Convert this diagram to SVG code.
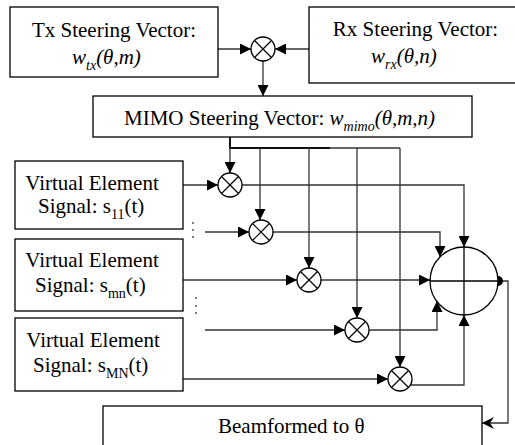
<svg xmlns="http://www.w3.org/2000/svg" width="515" height="445" viewBox="0 0 515 445">
<style>
  .box { fill: #fff; stroke: #000; stroke-width: 1.3; }
  .t { font-family: "Liberation Serif", "Times New Roman", serif; font-size: 21px; fill: #000; }
  .it { font-style: italic; }
  .sub { font-size: 14px; }
  .ln { fill: none; stroke: #333; stroke-width: 1.3; }
  .bus { fill: none; stroke: #111; stroke-width: 2; }
  .op { fill: #fff; stroke: #000; stroke-width: 1.3; }
  .dot { fill: #555; }
</style>
<defs>
  <marker id="arr" markerUnits="userSpaceOnUse" markerWidth="11" markerHeight="11" refX="11" refY="5.5" orient="auto">
    <path d="M0,0 L11,5.5 L0,11 z" fill="#000"/>
  </marker>
  <marker id="arr2" markerUnits="userSpaceOnUse" markerWidth="12" markerHeight="12" refX="12" refY="6" orient="auto">
    <path d="M0,0 L12,6 L0,12 L4,6 z" fill="#000"/>
  </marker>
  <g id="mult">
    <circle class="op" cx="0" cy="0" r="12"/>
    <path d="M-8.5,-8.5 L8.5,8.5 M-8.5,8.5 L8.5,-8.5" stroke="#000" stroke-width="1.2"/>
  </g>
</defs>

<g id="connectors">
  <!-- top -->
  <path class="ln" d="M218,49 H251" marker-end="url(#arr)"/>
  <path class="ln" d="M309,49 H275" marker-end="url(#arr)"/>
  <path class="ln" d="M263,61 V96" marker-end="url(#arr)"/>
  <!-- bus -->
  <path class="bus" d="M230,137 V148 H330"/>
  <path class="ln" d="M330,148 H400"/>
  <path class="ln" d="M230,148 V173" marker-end="url(#arr)"/>
  <path class="ln" d="M260,148 V220" marker-end="url(#arr)"/>
  <path class="ln" d="M309,148 V268" marker-end="url(#arr)"/>
  <path class="ln" d="M357,148 V318" marker-end="url(#arr)"/>
  <path class="ln" d="M400,148 V367" marker-end="url(#arr)"/>
  <!-- inputs -->
  <path class="ln" d="M183,185 H218" marker-end="url(#arr)"/>
  <path class="ln" d="M205,232 H249" marker-end="url(#arr)"/>
  <path class="ln" d="M183,280 H297" marker-end="url(#arr)"/>
  <path class="ln" d="M205,330 H345" marker-end="url(#arr)"/>
  <path class="ln" d="M183,379 H388" marker-end="url(#arr)"/>
  <!-- outputs -->
  <path class="ln" d="M242,185 H464 V247" marker-end="url(#arr)"/>
  <path class="ln" d="M273,232 H440 V257" marker-end="url(#arr)"/>
  <path class="ln" d="M321,280 H430" marker-end="url(#arr)"/>
  <path class="ln" d="M369,330 H437 V301" marker-end="url(#arr)"/>
  <path class="ln" d="M410,385 H464 V315" marker-end="url(#arr)"/>
  <!-- sum output -->
  <path class="ln" d="M498,281 H508 V423 H482" marker-end="url(#arr2)"/>
  <!-- ellipsis dots -->
  <circle class="dot" cx="193" cy="223" r="1"/>
  <circle class="dot" cx="193" cy="230" r="1"/>
  <circle class="dot" cx="193" cy="237" r="1"/>
  <circle class="dot" cx="196" cy="298" r="1"/>
  <circle class="dot" cx="196" cy="306" r="1"/>
  <circle class="dot" cx="196" cy="313" r="1"/>
</g>

<g id="tx">
  <rect class="box" x="10" y="7" width="208" height="70"/>
  <text class="t" x="114" y="37" text-anchor="middle">Tx Steering Vector:</text>
  <text class="t it" x="72" y="64">w<tspan class="sub" dy="6">tx</tspan><tspan dy="-6">(θ,m)</tspan></text>
</g>

<g id="rx">
  <rect class="box" x="309" y="7" width="210" height="76"/>
  <text class="t" x="415.5" y="36" text-anchor="middle">Rx Steering Vector:</text>
  <text class="t it" x="371" y="63">w<tspan class="sub" dy="6">rx</tspan><tspan dy="-6">(θ,n)</tspan></text>
</g>

<g id="mult-top"><use href="#mult" x="263" y="49"/></g>

<g id="mimo">
  <rect class="box" x="93" y="96" width="379" height="41"/>
  <text class="t" x="124" y="125">MIMO Steering Vector: <tspan class="it">w</tspan><tspan class="it sub" dy="6">mimo</tspan><tspan class="it" dy="-6">(θ,m,n)</tspan></text>
</g>

<g id="ve1">
  <rect class="box" x="15" y="161" width="168" height="68"/>
  <text class="t" x="92" y="190" text-anchor="middle">Virtual Element</text>
  <text class="t" x="38" y="213">Signal: s<tspan class="sub" dy="6">11</tspan><tspan dy="-6">(t)</tspan></text>
</g>

<g id="ve2">
  <rect class="box" x="15" y="239" width="168" height="72"/>
  <text class="t" x="92" y="267" text-anchor="middle">Virtual Element</text>
  <text class="t" x="35" y="292">Signal: s<tspan class="sub" dy="6">mn</tspan><tspan dy="-6">(t)</tspan></text>
</g>

<g id="ve3">
  <rect class="box" x="15" y="318" width="168" height="73"/>
  <text class="t" x="93" y="347" text-anchor="middle">Virtual Element</text>
  <text class="t" x="33" y="372">Signal: s<tspan class="sub" dy="6">MN</tspan><tspan dy="-6">(t)</tspan></text>
</g>

<g id="m1"><use href="#mult" x="230" y="185"/></g>
<g id="m2"><use href="#mult" x="261" y="232"/></g>
<g id="m3"><use href="#mult" x="309" y="280"/></g>
<g id="m4"><use href="#mult" x="357" y="330"/></g>
<g id="m5"><use href="#mult" x="400" y="379"/></g>

<g id="sum">
  <circle class="op" cx="464" cy="281" r="34"/>
  <path d="M430,281 H498 M464,247 V315" stroke="#000" stroke-width="1.3"/>
  <path d="M498,276 A5,5 0 0 1 498,286 z" fill="#000"/>
</g>

<g id="out">
  <rect class="box" x="103" y="406" width="379" height="45"/>
  <text class="t" x="218" y="433">Beamformed to θ</text>
</g>
</svg>
